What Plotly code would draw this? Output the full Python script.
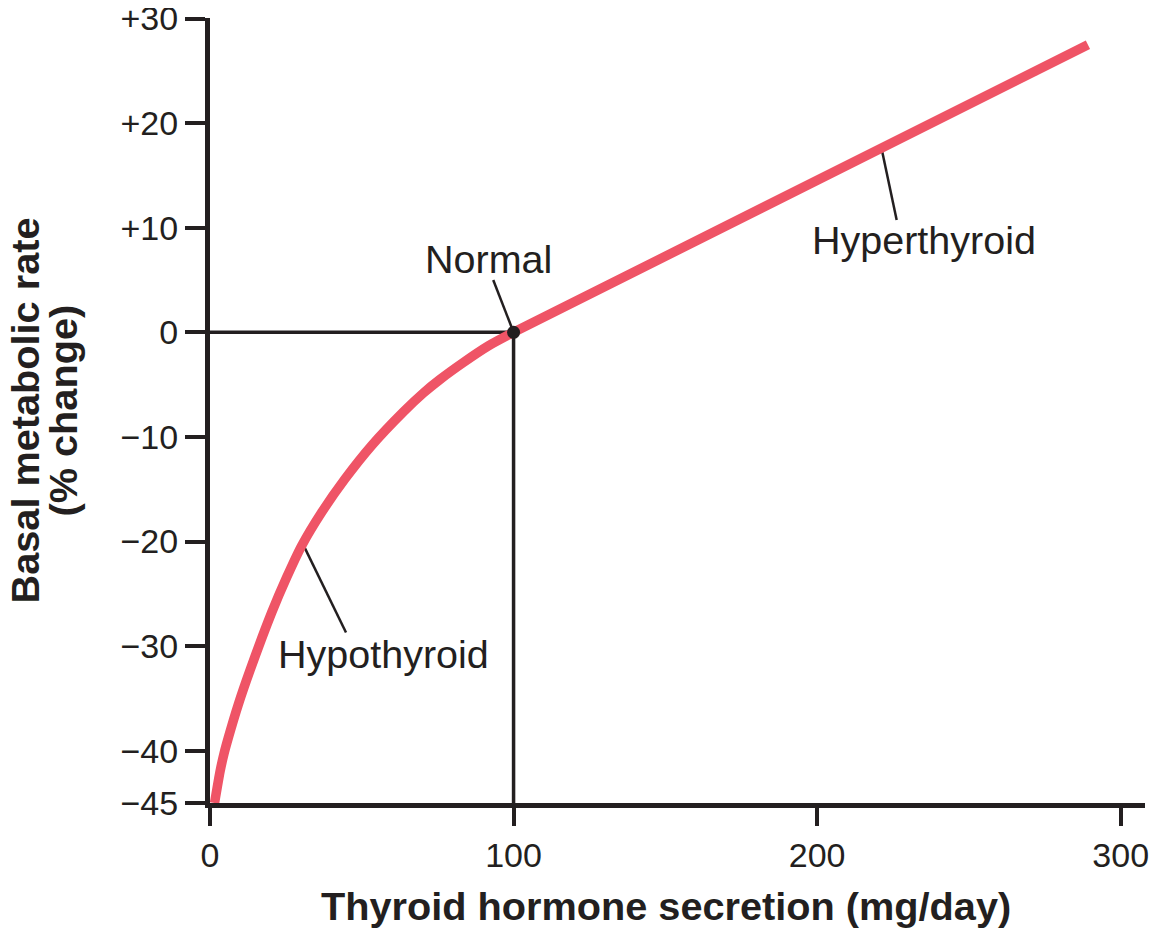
import plotly.graph_objects as go

# ---- data ----
hypo_x = [1.5, 3.3, 4.6, 6.0, 9.3, 13.2, 20.3, 25.3, 30.2, 36.8, 44.5, 53.3, 63.7, 70.3, 75.8, 83.4, 91.7, 100.0]
hypo_y = [-45.0, -42.0, -40.3, -38.8, -35.6, -32.3, -26.8, -23.4, -20.4, -17.2, -14.0, -10.8, -7.6, -5.8, -4.5, -2.9, -1.3, 0.0]
hyper_x = [100.0, 289.2]
hyper_y = [0.0, 27.5]

normal_x = [100.0]
normal_y = [0.0]

y_tickvals = [30, 20, 10, 0, -10, -20, -30, -40, -45]
y_ticktext = ["+30", "+20", "+10", "0", "\u221210", "\u221220", "\u221230", "\u221240", "\u221245"]
x_tickvals = [0, 100, 200, 300]
x_ticktext = ["0", "100", "200", "300"]

x_title = "Thyroid hormone secretion (mg/day)"
y_title_1 = "Basal metabolic rate"
y_title_2 = "(% change)"

# label text, anchor (data coords) and leader line ends (data coords)
labels = ["Normal", "Hyperthyroid", "Hypothyroid"]
label_x = [91.9, 235.2, 57.1]
label_y = [7.0, 8.87, -30.75]
leader_x0 = [93.3, 226.2, 44.8]
leader_y0 = [5.0, 10.74, -28.7]
leader_x1 = [100.0, 221.2, 30.7]
leader_y1 = [0.0, 17.6, -20.3]

INK = "#231F20"
CURVE = "#EF5466"
FONT = "Liberation Sans, Arial, Helvetica, sans-serif"

curve_x = hypo_x + hyper_x[1:]
curve_y = hypo_y + hyper_y[1:]

fig = go.Figure()

fig.add_trace(go.Scatter(
    x=curve_x, y=curve_y, mode="lines",
    line=dict(color=CURVE, width=9.5, shape="spline", smoothing=0.6),
    hoverinfo="skip", showlegend=False,
))
fig.add_trace(go.Scatter(
    x=normal_x, y=normal_y, mode="markers",
    marker=dict(color=INK, size=13),
    hoverinfo="skip", showlegend=False,
))

shapes = [
    dict(type="line", xref="x", yref="y", x0=0, y0=normal_y[0], x1=normal_x[0], y1=normal_y[0],
         line=dict(color=INK, width=3.5), layer="below"),
    dict(type="line", xref="x", yref="y", x0=normal_x[0], y0=-45, x1=normal_x[0], y1=normal_y[0],
         line=dict(color=INK, width=3.5), layer="below"),
]
for i in range(len(labels)):
    shapes.append(dict(type="line", xref="x", yref="y",
                       x0=leader_x0[i], y0=leader_y0[i], x1=leader_x1[i], y1=leader_y1[i],
                       line=dict(color=INK, width=2.5), layer="below"))

annotations = []
for i in range(len(labels)):
    annotations.append(dict(x=label_x[i], y=label_y[i], xref="x", yref="y", text=labels[i],
                            showarrow=False, xanchor="center", yanchor="middle",
                            font=dict(family=FONT, size=39.5, color=INK)))

annotations.append(dict(x=0.4877, y=0, xref="paper", yref="paper", text="<b>%s</b>" % x_title,
                        showarrow=False, xanchor="center", yanchor="middle", yshift=-103,
                        font=dict(family=FONT, size=39.7, color=INK)))
annotations.append(dict(x=0, y=0.5, xref="paper", yref="paper", text="<b>%s</b>" % y_title_1,
                        showarrow=False, xanchor="center", yanchor="middle", xshift=-186, textangle=-90,
                        font=dict(family=FONT, size=39.7, color=INK)))
annotations.append(dict(x=0, y=0.5, xref="paper", yref="paper", text="<b>%s</b>" % y_title_2,
                        showarrow=False, xanchor="center", yanchor="middle", xshift=-148, textangle=-90,
                        font=dict(family=FONT, size=39.7, color=INK)))

# page body has an 8px default margin, so the figure is sized to fit the window
fig.update_layout(
    width=1156, height=937,
    margin=dict(l=202, r=19, t=10, b=142),
    paper_bgcolor="white", plot_bgcolor="white",
    shapes=shapes, annotations=annotations,
    showlegend=False,
    font=dict(family=FONT, color=INK),
)
fig.update_xaxes(
    range=[0, 308], showgrid=False, zeroline=False, automargin=False,
    showline=True, linecolor=INK, linewidth=5,
    ticks="outside", ticklen=18, tickwidth=4, tickcolor=INK,
    tickvals=x_tickvals, ticktext=x_ticktext,
    tickfont=dict(family=FONT, size=34, color=INK),
)
fig.update_yaxes(
    range=[-45, 30.05], showgrid=False, zeroline=False, automargin=False,
    showline=True, linecolor=INK, linewidth=5,
    ticks="outside", ticklen=20, tickwidth=4, tickcolor=INK,
    tickvals=y_tickvals, ticktext=y_ticktext, ticklabeloverflow="allow",
    tickfont=dict(family=FONT, size=34, color=INK),
)

fig.write_html("out.html")
